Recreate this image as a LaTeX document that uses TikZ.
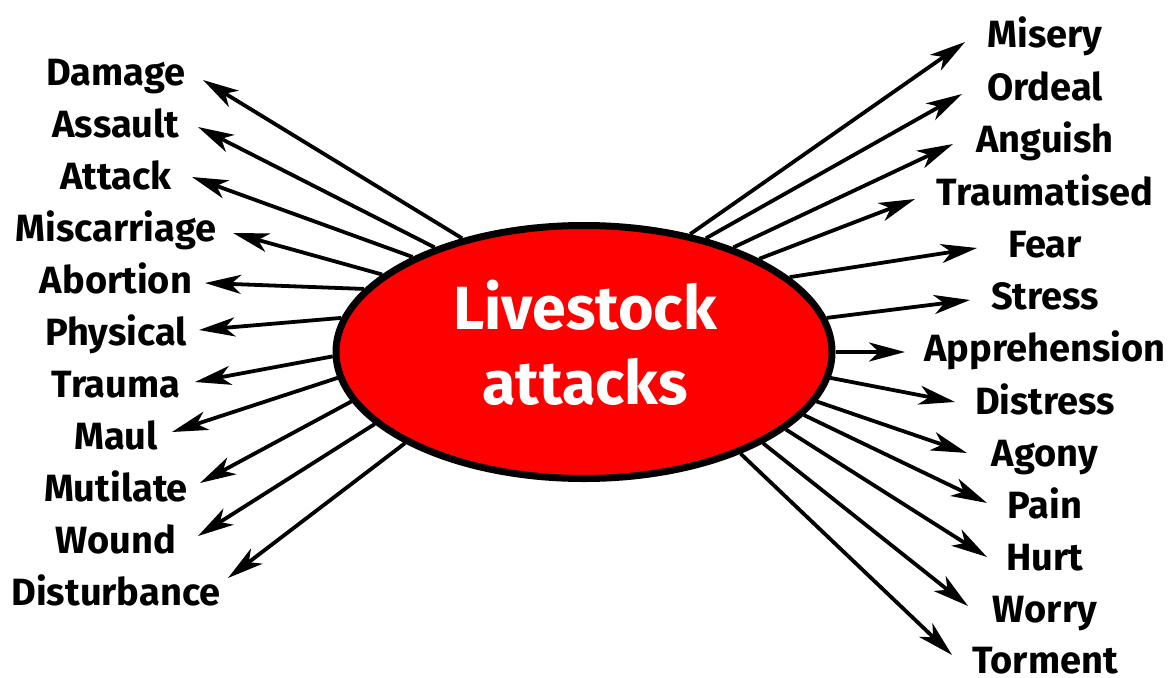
\documentclass[tikz,border=0pt]{standalone}
\usepackage{fontspec}
\setmainfont{Fira Sans}
\usepackage{tikz}
\usetikzlibrary{arrows.meta,shapes.geometric}
\definecolor{blobred}{RGB}{255,0,0}

\begin{document}
\begin{tikzpicture}[
    x=1pt, y=-1pt,
    blob/.style={
        ellipse,
        draw,
        fill=blobred,
        line width=7pt,
        minimum width=496pt,
        minimum height=253pt,
        inner sep=0pt
    },
    title/.style={text=white, align=center, font=\fontsize{61}{75}\selectfont\bfseries},
    word/.style={anchor=base, inner sep=0pt, font=\fontsize{38}{40}\selectfont\bfseries},
    arrow/.style={-{Stealth[length=36pt, width=19pt, inset=10pt]}, line width=3.8pt}
]
\useasboundingbox (0,0) rectangle (1174,677);

\node[blob] (cen) at (584,352) {};
\node[title] (title) at (585,343) {Livestock\\attacks};

% left side: kinds of harm
\foreach \nm/\txt/\ly/\ang/\tx/\ty in {
    damage/Damage/85/137.3/203/80,
    assault/Assault/137/145.2/198/127,
    attack/Attack/189/151.8/192/177,
    miscarriage/Miscarriage/241/159.1/233/233,
    abortion/Abortion/293/164.2/205/283,
    physical/Physical/345/172.1/199/330,
    trauma/Trauma/397/181.4/195/382,
    maul/Maul/449/186.9/172/432,
    mutilate/Mutilate/501/192.6/200/483,
    wound/Wound/553/199.1/198/536,
    disturbance/Disturbance/605/207.3/228/578}{
    \node[word] (\nm) at (116,\ly) {\txt};
    \coordinate (\nm-tip) at (\tx,\ty);
    \draw[arrow] (cen.\ang) -- (\nm-tip);
}

% right side: what it feels like
\foreach \nm/\txt/\ly/\ang/\tx/\ty in {
    misery/Misery/48/48.9/965/42,
    ordeal/Ordeal/100/43.6/962/94,
    anguish/Anguish/152/35.5/953/144,
    traumatised/Traumatised/205/28.2/915/199,
    fear/Fear/257/20.0/977/248,
    stress/Stress/309/8.6/970/300,
    apprehension/Apprehension/361/0/905/352,
    distress/Distress/414/354.3/955/402,
    agony/Agony/466/348.2/967/453,
    pain/Pain/518/344.4/987/503,
    hurt/Hurt/570/339.9/987/557,
    worry/Worry/622/333.2/968/606,
    torment/Torment/673/327/952/655}{
    \node[word] (\nm) at (1045,\ly) {\txt};
    \coordinate (\nm-tip) at (\tx,\ty);
    \draw[arrow] (cen.\ang) -- (\nm-tip);
}

\end{tikzpicture}
\end{document}
